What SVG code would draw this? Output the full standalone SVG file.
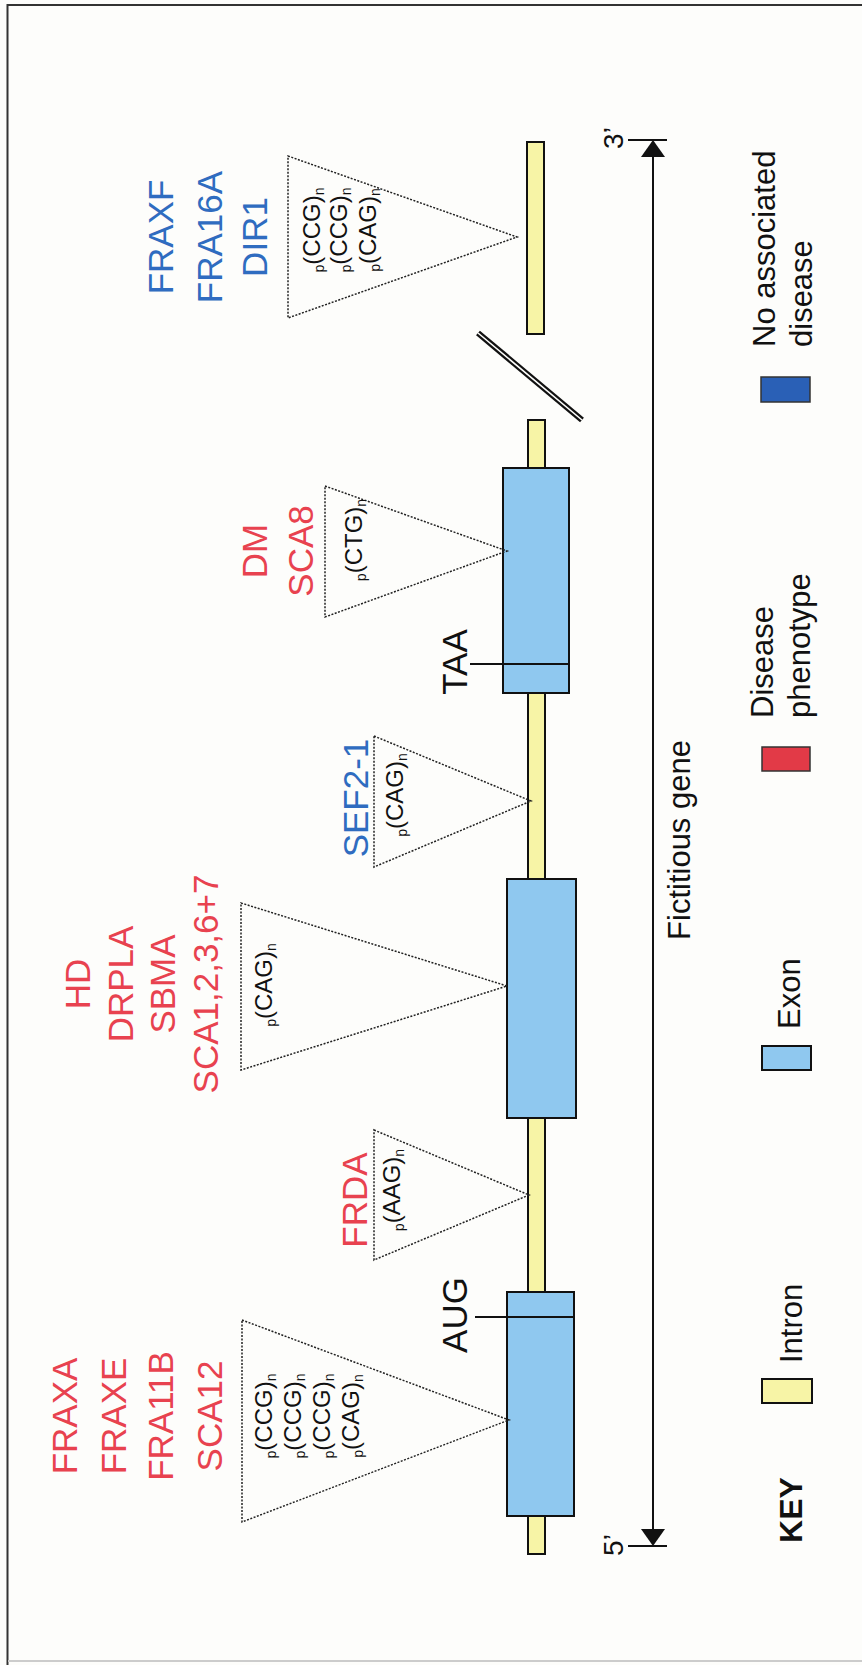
<svg xmlns="http://www.w3.org/2000/svg" width="862" height="1665" viewBox="0 0 862 1665">
<defs>
<style>
.lbl{font-family:"Liberation Sans",Arial,sans-serif;font-size:35px;text-anchor:middle}
.red{fill:#e8424f}
.blue{fill:#2f6cc0}
.blk{fill:#111}
.rep{font-family:"Liberation Sans",Arial,sans-serif;font-size:24px;text-anchor:middle;fill:#111}
.sub{font-size:14px}
.tri{fill:none;stroke:#222;stroke-width:1.5;stroke-dasharray:2 1.5}
.exon{fill:#8fc8ef;stroke:#111;stroke-width:2}
.intron{fill:#f7f4a6;stroke:#111;stroke-width:2}
.key{font-family:"Liberation Sans",Arial,sans-serif;font-size:31px;fill:#111}
.ln{stroke:#111;stroke-width:2;fill:none}
</style>
</defs>
<rect x="0" y="0" width="862" height="1665" fill="#fdfdfb"/>
<g id="frame">
<path d="M870,5 H7.5 V1665" fill="none" stroke="#333" stroke-width="2"/>
<line x1="8" y1="1661" x2="862" y2="1661" stroke="#ccc" stroke-width="2"/>
</g>

<g id="gene">
<rect class="intron" x="528" y="420" width="17" height="1134"/>
<rect class="intron" x="527" y="142" width="17" height="192"/>
<rect id="exon1" class="exon" x="507" y="1292" width="67" height="224"/>
<rect id="exon2" class="exon" x="507" y="879" width="69" height="239"/>
<rect id="exon3" class="exon" x="503" y="468" width="66" height="225"/>
<g id="break">
<line x1="478" y1="333" x2="582" y2="420" stroke="#111" stroke-width="6"/>
<line x1="478" y1="333" x2="582" y2="420" stroke="#fdfdfb" stroke-width="1.6"/>
</g>
</g>

<g id="aug">
<line class="ln" x1="475" y1="1317" x2="574" y2="1317"/>
<text class="lbl blk" transform="translate(467,1315) rotate(-90)">AUG</text>
</g>
<g id="taa">
<line class="ln" x1="470" y1="664" x2="569" y2="664"/>
<text class="lbl blk" transform="translate(467,662) rotate(-90)">TAA</text>
</g>

<g id="repeat-fraxa">
<polygon class="tri" points="242,1320 509,1420 242,1522"/>
<text class="rep" transform="translate(272,1416) rotate(-90)"><tspan class="sub" dy="4">p</tspan><tspan dy="-4">(CCG)</tspan><tspan class="sub" dy="4">n</tspan></text>
<text class="rep" transform="translate(301,1416) rotate(-90)"><tspan class="sub" dy="4">p</tspan><tspan dy="-4">(CCG)</tspan><tspan class="sub" dy="4">n</tspan></text>
<text class="rep" transform="translate(330,1416) rotate(-90)"><tspan class="sub" dy="4">p</tspan><tspan dy="-4">(CCG)</tspan><tspan class="sub" dy="4">n</tspan></text>
<text class="rep" transform="translate(359,1416) rotate(-90)"><tspan class="sub" dy="4">p</tspan><tspan dy="-4">(CAG)</tspan><tspan class="sub" dy="4">n</tspan></text>
<text class="lbl red" transform="translate(77,1416) rotate(-90)">FRAXA</text>
<text class="lbl red" transform="translate(126,1416) rotate(-90)">FRAXE</text>
<text class="lbl red" transform="translate(173,1416) rotate(-90)">FRA11B</text>
<text class="lbl red" transform="translate(222,1416) rotate(-90)">SCA12</text>
</g>

<g id="repeat-frda">
<polygon class="tri" points="374,1130 529,1195 374,1260"/>
<text class="rep" transform="translate(400,1190) rotate(-90)"><tspan class="sub" dy="4">p</tspan><tspan dy="-4">(AAG)</tspan><tspan class="sub" dy="4">n</tspan></text>
<text class="lbl red" transform="translate(367,1200) rotate(-90)">FRDA</text>
</g>

<g id="repeat-hd">
<polygon class="tri" points="241,903 507,986 241,1070"/>
<text class="rep" transform="translate(272,985) rotate(-90)"><tspan class="sub" dy="4">p</tspan><tspan dy="-4">(CAG)</tspan><tspan class="sub" dy="4">n</tspan></text>
<text class="lbl red" transform="translate(90,984) rotate(-90)">HD</text>
<text class="lbl red" transform="translate(133,984) rotate(-90)">DRPLA</text>
<text class="lbl red" transform="translate(175,984) rotate(-90)">SBMA</text>
<text class="lbl red" transform="translate(218,984) rotate(-90)">SCA1,2,3,6+7</text>
</g>

<g id="repeat-sef">
<polygon class="tri" points="374,736 531,801 374,867"/>
<text class="rep" transform="translate(403,795) rotate(-90)"><tspan class="sub" dy="4">p</tspan><tspan dy="-4">(CAG)</tspan><tspan class="sub" dy="4">n</tspan></text>
<text class="lbl blue" transform="translate(368,798) rotate(-90)">SEF2-1</text>
</g>

<g id="repeat-dm">
<polygon class="tri" points="325,486 507,551 325,617"/>
<text class="rep" transform="translate(362,540) rotate(-90)"><tspan class="sub" dy="4">p</tspan><tspan dy="-4">(CTG)</tspan><tspan class="sub" dy="4">n</tspan></text>
<text class="lbl red" transform="translate(267,551) rotate(-90)">DM</text>
<text class="lbl red" transform="translate(313,551) rotate(-90)">SCA8</text>
</g>

<g id="repeat-fraxf">
<polygon class="tri" points="288,156 517,237 288,318"/>
<text class="rep" transform="translate(320,230) rotate(-90)"><tspan class="sub" dy="4">p</tspan><tspan dy="-4">(CCG)</tspan><tspan class="sub" dy="4">n</tspan></text>
<text class="rep" transform="translate(347,230) rotate(-90)"><tspan class="sub" dy="4">p</tspan><tspan dy="-4">(CCG)</tspan><tspan class="sub" dy="4">n</tspan></text>
<text class="rep" transform="translate(376,230) rotate(-90)"><tspan class="sub" dy="4">p</tspan><tspan dy="-4">(CAG)</tspan><tspan class="sub" dy="4">n</tspan></text>
<text class="lbl blue" transform="translate(173,237) rotate(-90)">FRAXF</text>
<text class="lbl blue" transform="translate(222,237) rotate(-90)">FRA16A</text>
<text class="lbl blue" transform="translate(267,237) rotate(-90)">DIR1</text>
</g>

<g id="connectors">
<line class="ln" x1="653" y1="155" x2="653" y2="1532"/>
<polygon points="653,140 641,157 665,157" fill="#111"/>
<polygon points="653,1546 641,1529 665,1529" fill="#111"/>
<line class="ln" x1="628" y1="140" x2="667" y2="140"/>
<line class="ln" x1="628" y1="1546" x2="667" y2="1546"/>
<text class="key" style="font-size:28px;text-anchor:middle" transform="translate(623,1545) rotate(-90)">5’</text>
<text class="key" style="font-size:28px;text-anchor:middle" transform="translate(623,138) rotate(-90)">3’</text>
<text class="key" style="text-anchor:middle" transform="translate(690,840) rotate(-90)">Fictitious gene</text>
</g>

<g id="legend">
<text class="key" style="font-weight:bold;font-size:32px;text-anchor:middle" transform="translate(802,1510) rotate(-90)">KEY</text>
<rect class="intron" x="762" y="1379" width="50" height="24" stroke-width="1.5"/>
<text class="key" transform="translate(802,1363) rotate(-90)">Intron</text>
<rect class="exon" x="762" y="1046" width="49" height="24" stroke-width="1.5"/>
<text class="key" transform="translate(800,1029) rotate(-90)">Exon</text>
<rect x="762" y="747" width="48" height="24" fill="#e23a47" stroke="#333" stroke-width="1.5"/>
<text class="key" transform="translate(773,718) rotate(-90)">Disease</text>
<text class="key" transform="translate(810,718) rotate(-90)">phenotype</text>
<rect x="761" y="377" width="49" height="25" fill="#2a60b6" stroke="#333" stroke-width="1.5"/>
<text class="key" transform="translate(775,347) rotate(-90)">No associated</text>
<text class="key" transform="translate(812,347) rotate(-90)">disease</text>
</g>
</svg>
